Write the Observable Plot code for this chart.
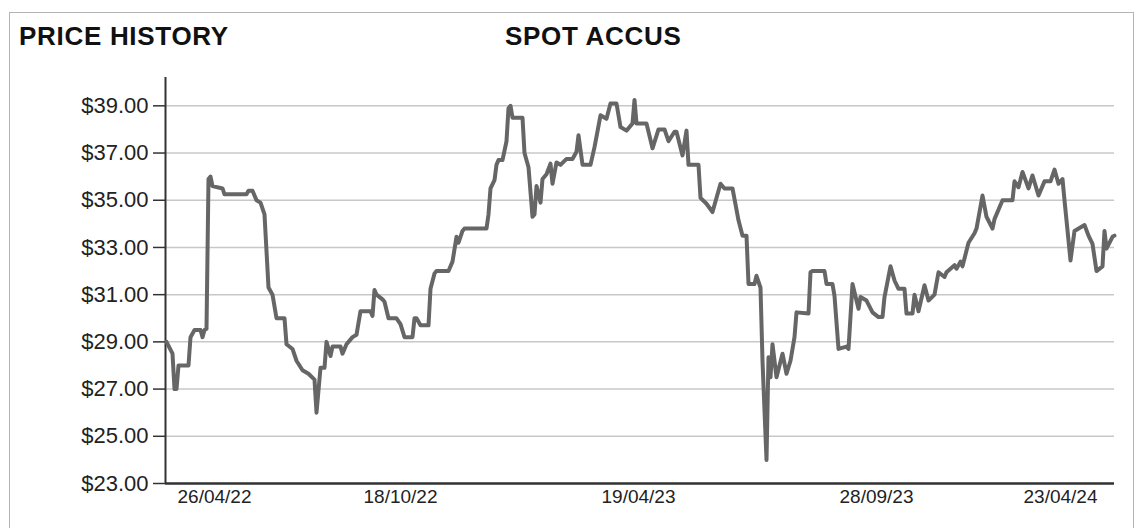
<!DOCTYPE html>
<html>
<head>
<meta charset="utf-8">
<script src="https://cdn.jsdelivr.net/npm/d3@7"></script>
<script src="https://cdn.jsdelivr.net/npm/@observablehq/plot@0.6"></script>
<style>
  html, body { margin: 0; padding: 0; background: #fff; }
  #wrap { position: relative; width: 1137px; height: 528px; overflow: hidden; font-family: "Liberation Sans", Arial, sans-serif; }
  #border { position: absolute; left: 9px; top: 12px; width: 1125px; height: 560px; border: 1px solid #b4b4b4; box-sizing: border-box; }
  .title { position: absolute; top: 23px; font-size: 26px; line-height: 26px; font-weight: bold; letter-spacing: 0.7px; color: #111; white-space: nowrap; }
  #chart { position: absolute; left: 0; top: 0; }
</style>
</head>
<body>
<div id="wrap">
  <div id="border"></div>
  <div class="title" style="left:19px">PRICE HISTORY</div>
  <div class="title" style="left:505px">SPOT ACCUS</div>
  <div id="chart"></div>
</div>
<script>
// observation number (trading session) and spot price
const obs = [0,3,4,5,6,11,12,14,17,18,19,20,21,22,23,28,29,40,41,43,45,47,49,51,53,55,59,60,63,65,68,71,74,75,77,79,80,82,83,87,88,90,93,95,97,102,103,104,105,108,109,111,115,117,119,123,124,125,127,131,132,134,135,141,143,145,146,148,149,160,161,162,164,165,166,168,170,171,172,173,178,179,181,183,184,185,187,188,190,192,193,195,197,200,203,205,206,208,212,214,215,217,220,222,225,227,230,233,234,235,240,243,246,249,251,254,255,258,260,261,266,267,270,273,277,279,283,286,288,290,291,294,295,297,298,300,301,302,303,305,308,310,312,314,315,321,322,323,329,330,333,334,336,340,341,343,346,347,350,353,356,358,359,362,364,366,369,370,373,374,376,379,381,384,386,389,390,394,395,397,398,401,404,405,408,410,413,414,418,423,424,426,428,431,433,436,439,442,444,446,448,449,452,454,459,461,463,465,468,469,470,473,474];
const prices = [29.0,28.5,27.0,27.0,28.0,28.0,29.2,29.5,29.5,29.2,29.5,29.55,35.9,36.0,35.6,35.5,35.25,35.25,35.4,35.4,35.0,34.9,34.4,31.3,31.0,30.0,30.0,28.9,28.7,28.2,27.8,27.65,27.4,26.0,27.9,27.9,29.0,28.4,28.8,28.8,28.5,28.9,29.2,29.3,30.3,30.3,30.1,31.2,31.0,30.8,30.7,30.0,30.0,29.75,29.2,29.2,30.0,30.0,29.7,29.7,31.25,31.9,32.0,32.0,32.4,33.45,33.2,33.7,33.8,33.8,34.4,35.5,35.85,36.5,36.7,36.7,37.5,38.9,39.0,38.5,38.5,37.0,36.4,34.3,34.4,35.6,34.9,35.9,36.1,36.55,35.7,36.6,36.5,36.75,36.75,37.05,37.75,36.5,36.5,37.25,37.7,38.6,38.45,39.1,39.1,38.1,37.95,38.25,39.25,38.25,38.25,37.2,38.0,38.0,37.5,37.9,37.9,36.9,37.95,36.5,36.5,35.1,34.85,34.5,35.7,35.5,35.5,34.15,33.5,33.5,31.45,31.45,31.8,31.3,28.2,24.0,28.35,27.5,28.9,27.5,28.5,27.65,28.2,29.2,30.25,30.2,31.95,32.0,32.0,31.45,31.45,30.95,28.7,28.8,28.7,31.45,30.4,30.9,30.75,30.25,30.05,30.05,30.9,32.2,31.6,31.25,31.25,30.2,30.2,31.0,30.3,31.4,30.75,31.0,31.95,31.75,31.95,32.25,32.1,32.4,32.2,33.2,33.6,33.8,35.2,34.3,33.8,34.2,35.0,35.0,35.8,35.55,36.2,35.5,36.05,35.2,35.8,35.8,36.3,35.7,35.9,35.0,32.45,33.7,33.95,33.5,33.15,32.0,32.2,33.7,32.95,33.45,33.5];
const tickObs = [24, 117, 236, 355, 447];
const tickLabels = ["26/04/22", "18/10/22", "19/04/23", "28/09/23", "23/04/24"];
const yTicks = [23, 25, 27, 29, 31, 33, 35, 37, 39];

const data = obs.map((o, i) => ({obs: o, price: prices[i]}));
const labelMap = new Map(tickObs.map((o, i) => [o, tickLabels[i]]));

const chart = Plot.plot({
  width: 1137,
  height: 528,
  marginLeft: 165,
  marginRight: 23,
  marginTop: 77,
  marginBottom: 45,
  style: {fontFamily: "'Liberation Sans', Arial, sans-serif", color: "#222", background: "transparent"},
  x: {domain: [-0.5, 474], axis: null},
  y: {domain: [23, 40.2], axis: null},
  marks: [
    Plot.gridY(yTicks, {stroke: "#c8c8c8", strokeOpacity: 1, strokeWidth: 1.5}),
    Plot.axisY(yTicks, {label: null, tickSize: 12, tickPadding: 5, strokeWidth: 1.5, stroke: "#333", fill: "#222", fontSize: 22, tickFormat: d => "$" + d.toFixed(2)}),
    Plot.axisX(tickObs, {label: null, tickSize: 0, tickPadding: 6, fontSize: 19, fill: "#222", tickFormat: d => labelMap.get(d)}),
    Plot.ruleX([-0.5], {stroke: "#333", strokeWidth: 2}),
    Plot.ruleY([23], {stroke: "#333", strokeWidth: 2.5}),
    Plot.line(data, {x: "obs", y: "price", stroke: "#666", strokeWidth: 4, strokeLinejoin: "round", strokeLinecap: "round"})
  ]
});
document.getElementById("chart").appendChild(chart);
</script>
</body>
</html>
